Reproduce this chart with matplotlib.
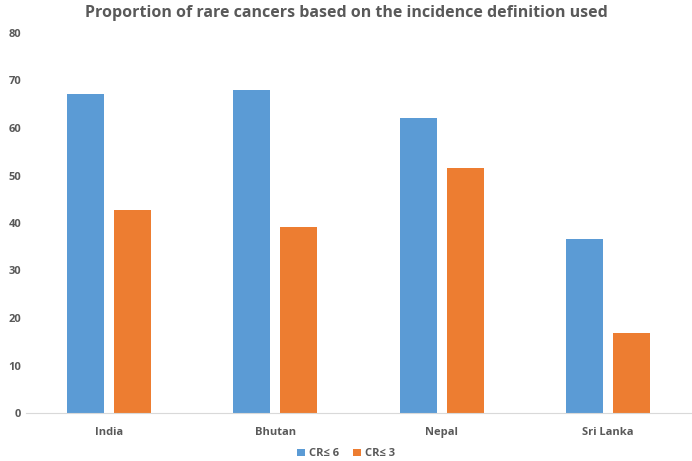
import numpy as np
import matplotlib.pyplot as plt

countries = ['India', 'Bhutan', 'Nepal', 'Sri Lanka']
cr6 = [67.2, 68.0, 62.1, 36.7]
cr3 = [42.8, 39.2, 51.6, 16.9]

blue = '#5B9BD5'
orange = '#ED7D31'
grey = '#595959'

plt.rcParams['font.family'] = ['Open Sans', 'DejaVu Sans']

fig = plt.figure(figsize=(6.92, 4.61), dpi=100)
ax = fig.add_axes([26 / 692, 48 / 461, 665 / 692, 380 / 461])

x = np.arange(len(countries))
w = 0.222
off = 0.141
ax.bar(x - off, cr6, w, color=blue, label='CR≤ 6')
ax.bar(x + off, cr3, w, color=orange, label='CR≤ 3')

ax.set_xlim(-0.5, len(countries) - 0.5)
ax.set_ylim(0, 80)
ax.set_yticks(range(0, 81, 10))
ax.set_xticks(x)
ax.set_xticklabels(countries)

for s in ['top', 'right', 'left']:
    ax.spines[s].set_visible(False)
ax.spines['bottom'].set_color('#D9D9D9')
ax.tick_params(length=0, colors=grey, labelsize=8)
ax.tick_params(axis='x', pad=10)
for lab in ax.get_xticklabels() + ax.get_yticklabels():
    lab.set_fontweight('bold')

fig.text(0.5, 0.99, 'Proportion of rare cancers based on the incidence definition used',
         ha='center', va='top', fontsize=11.5, fontweight='bold', color=grey)

leg = fig.legend(loc='lower center', bbox_to_anchor=(0.5, -0.018), ncol=2, frameon=False,
                 handlelength=0.7, handleheight=0.7, handletextpad=0.4, columnspacing=1.2,
                 fontsize=8)
for t in leg.get_texts():
    t.set_color(grey)
    t.set_fontweight('bold')

fig.savefig('out.png', dpi=100)
